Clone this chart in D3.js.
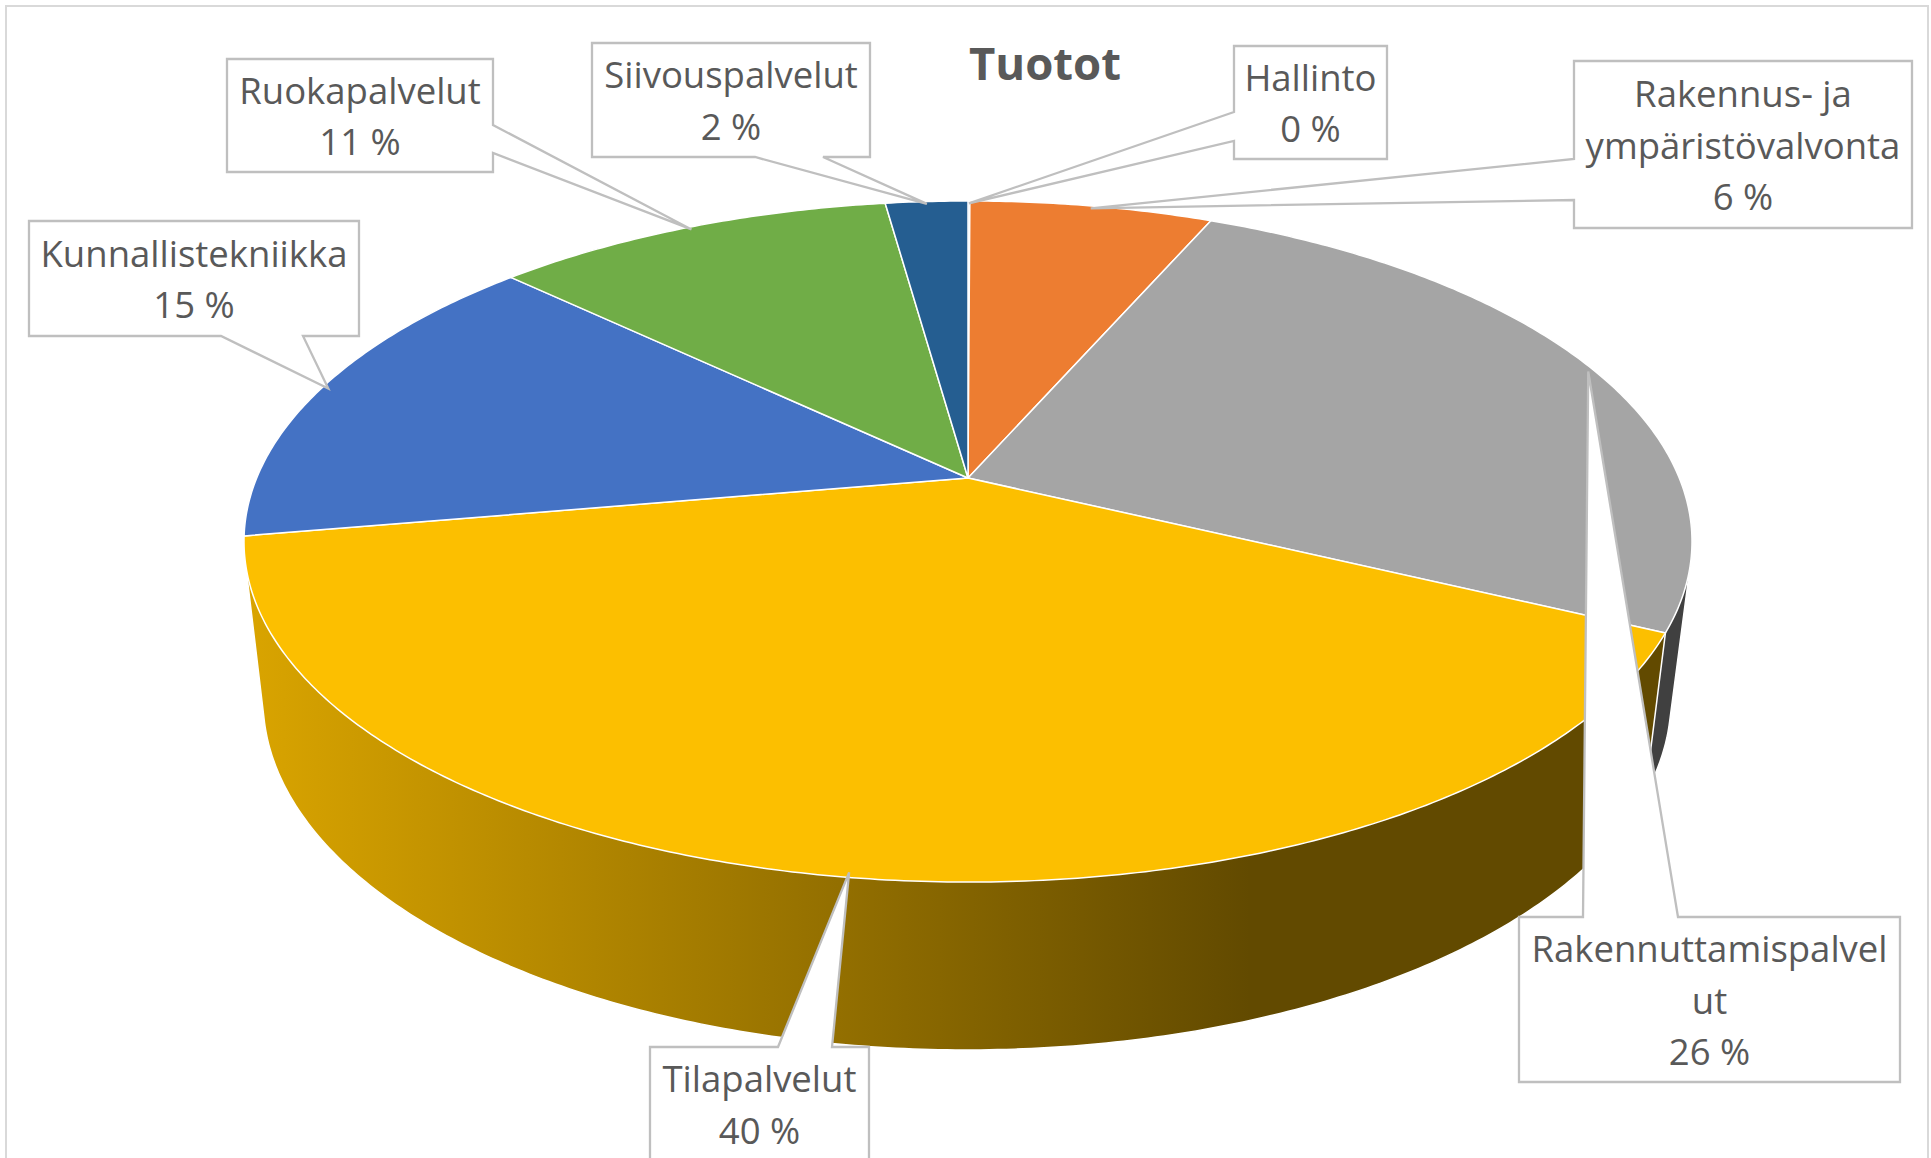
<!DOCTYPE html>
<html>
<head>
<meta charset="utf-8">
<script src="https://cdn.jsdelivr.net/npm/d3@7"></script>
<style>
  html, body { margin: 0; padding: 0; background: #fff; }
  svg { display: block; }
  text { font-family: "Open Sans", sans-serif; fill: #595959; text-anchor: middle; }
</style>
</head>
<body>
<svg id="chart" width="1931" height="1158"></svg>
<script>
const title = "Tuotot";
const categories = ["Hallinto", "Rakennus- ja ympäristövalvonta", "Rakennuttamispalvelut", "Tilapalvelut", "Kunnallistekniikka", "Ruokapalvelut", "Siivouspalvelut"];
const values = [0.05, 6.49, 25.56, 40.1, 14.8, 10.7, 2.2];
const percentLabels = ["0 %", "6 %", "26 %", "40 %", "15 %", "11 %", "2 %"];
const colors = ["#5b9bd5", "#ed7d31", "#a5a5a5", "#fcbf00", "#4472c4", "#70ad47", "#255e91"];

// rivitys kuten alkuperäisessä kuvassa
const wrappedNames = [
  ["Hallinto"],
  ["Rakennus- ja", "ympäristövalvonta"],
  ["Rakennuttamispalvel", "ut"],
  ["Tilapalvelut"],
  ["Kunnallistekniikka"],
  ["Ruokapalvelut"],
  ["Siivouspalvelut"]
];

// label boxes and the two points where the pointer leaves the box
const boxes = [
  { x: 1234, y: 46, w: 153, h: 113, side: "left", a: 112, b: 141 },
  { x: 1574, y: 61, w: 338, h: 167, side: "left", a: 159, b: 200 },
  { x: 1519, y: 917, w: 381, h: 165, side: "top", a: 1583, b: 1678 },
  { x: 650, y: 1047, w: 219, h: 114, side: "top", a: 778, b: 832 },
  { x: 29, y: 221, w: 330, h: 115, side: "bottom", a: 221, b: 303 },
  { x: 227, y: 59, w: 266, h: 113, side: "right", a: 125, b: 153 },
  { x: 592, y: 43, w: 278, h: 114, side: "bottom", a: 755, b: 823 }
];

const svg = d3.select("#chart");
const defs = svg.append("defs");

// perspective of the pie discs
const k = 0.1865;
const top_ = { x: 968, y: 478, a: 711.3, b: 328.7 };
const bottom_ = { x: 967, y: 634.7, a: 691.6, b: 337.8 };

function project(angle, disc, r = 1) {
  const u = r * Math.sin(angle), v = -r * Math.cos(angle);
  const d = 1 - k * v;
  return [disc.x + disc.a * u / d, disc.y + disc.b * v / d];
}

function arcPoints(s, disc) {
  const n = Math.max(2, Math.ceil((s.endAngle - s.startAngle) / 0.01));
  return d3.range(n + 1).map(i => project(s.startAngle + (s.endAngle - s.startAngle) * i / n, disc));
}

const pie = d3.pie().sort(null).value(d => d);
const slices = pie(values).map((s, i) => ({ ...s, i, mid: (s.startAngle + s.endAngle) / 2 }));
const line = d3.line();

// side walls, back ones first
const shade = d3.scaleLinear().domain([250, 1250]).range([0.86, 0.39]).clamp(true);
const wallOrder = slices.slice().sort((p, q) => Math.cos(q.mid) - Math.cos(p.mid));

wallOrder.forEach(s => {
  const c = d3.rgb(colors[s.i]);
  const grad = defs.append("linearGradient")
    .attr("id", "wall" + s.i)
    .attr("gradientUnits", "userSpaceOnUse")
    .attr("x1", shade.domain()[0]).attr("x2", shade.domain()[1])
    .attr("y1", 0).attr("y2", 0);
  shade.range().forEach((f, j) => {
    grad.append("stop")
      .attr("offset", j)
      .attr("stop-color", d3.rgb(c.r * f, c.g * f, c.b * f).formatHex());
  });
  const hull = d3.polygonHull(arcPoints(s, top_).concat(arcPoints(s, bottom_)));
  svg.append("path")
    .attr("d", line(hull) + "Z")
    .attr("fill", `url(#wall${s.i})`)
    .attr("stroke", "#fff")
    .attr("stroke-width", 1.5);
});

// top faces
svg.append("g").selectAll("path")
  .data(slices)
  .join("path")
  .attr("d", s => line([[top_.x, top_.y], ...arcPoints(s, top_)]) + "Z")
  .attr("fill", s => colors[s.i])
  .attr("stroke", "#fff")
  .attr("stroke-width", 1.5)
  .attr("stroke-linejoin", "round");

// frame
svg.append("rect")
  .attr("x", 6).attr("y", 6)
  .attr("width", 1922).attr("height", 1200)
  .attr("fill", "none")
  .attr("stroke", "#d9d9d9")
  .attr("stroke-width", 2);

// title
svg.append("text")
  .attr("x", 1045).attr("y", 80)
  .style("font-size", "45.5px")
  .style("font-weight", 700)
  .text(title);

function calloutPoints(box, tip) {
  const x0 = box.x, x1 = box.x + box.w, y0 = box.y, y1 = box.y + box.h;
  const pts = [[x0, y0]];
  if (box.side === "top") pts.push([box.a, y0], tip, [box.b, y0]);
  pts.push([x1, y0]);
  if (box.side === "right") pts.push([x1, box.a], tip, [x1, box.b]);
  pts.push([x1, y1]);
  if (box.side === "bottom") pts.push([box.b, y1], tip, [box.a, y1]);
  pts.push([x0, y1]);
  if (box.side === "left") pts.push([x0, box.b], tip, [x0, box.a]);
  return pts;
}

const lineStep = 51.6;
const labels = svg.append("g").selectAll("g")
  .data(slices)
  .join("g");

// pointers end just inside the rim
labels.append("path")
  .attr("d", s => line(calloutPoints(boxes[s.i], project(s.mid, top_, 0.99))) + "Z")
  .attr("fill", "#fff")
  .attr("stroke", "#bfbfbf")
  .attr("stroke-width", 2.3)
  .attr("stroke-linejoin", "miter");

labels.each(function(s) {
  const box = boxes[s.i];
  const rows = wrappedNames[s.i].concat(percentLabels[s.i]);
  const cx = box.x + box.w / 2, cy = box.y + box.h / 2;
  const first = cy + 14 - (rows.length - 1) * lineStep / 2;
  d3.select(this).selectAll("text")
    .data(rows)
    .join("text")
    .attr("x", cx)
    .attr("y", (d, j) => first + j * lineStep)
    .style("font-size", "36.5px")
    .text(d => d);
});
</script>
</body>
</html>
